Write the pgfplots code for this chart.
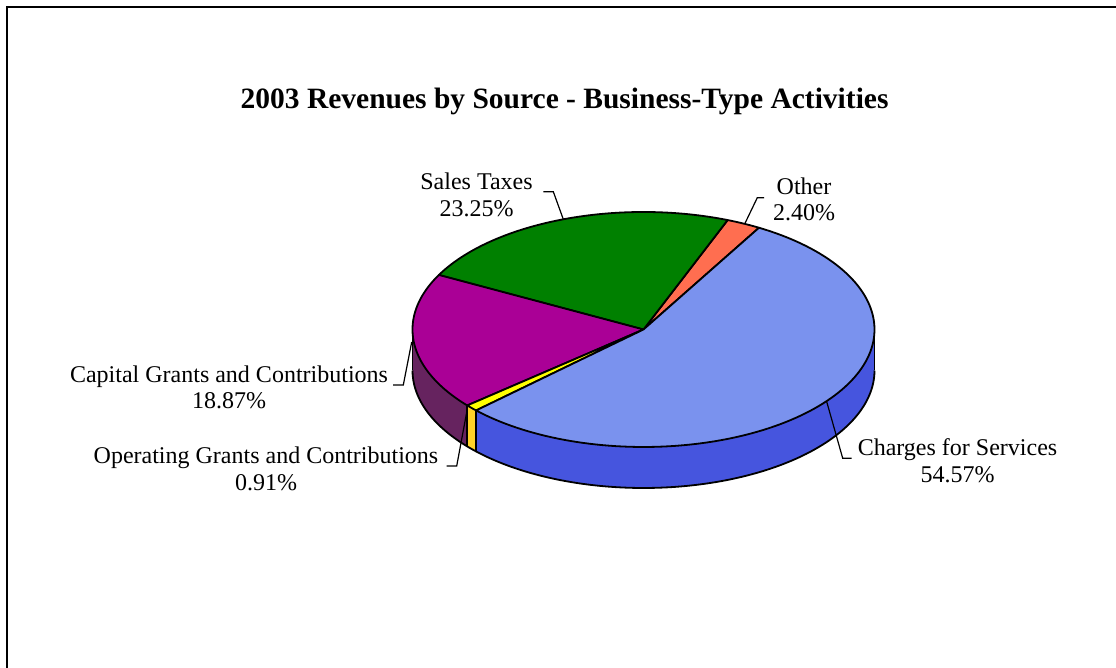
\documentclass[border=0pt]{standalone}
\usepackage{pgfplots}
\pgfplotsset{compat=1.18}
\usepackage{pgfplotstable}
\usepgfplotslibrary{fillbetween}
\usepackage{fontspec}
\setmainfont{Liberation Serif}

\definecolor{chargesTop}{RGB}{122,146,238}
\definecolor{chargesSide}{RGB}{70,85,222}
\definecolor{salesTop}{RGB}{0,128,0}
\definecolor{otherTop}{RGB}{255,110,80}
\definecolor{capitalTop}{RGB}{170,0,150}
\definecolor{capitalSide}{RGB}{102,35,95}
\definecolor{operTop}{RGB}{255,255,0}
\definecolor{operSide}{RGB}{255,210,40}

% percentages, in the order they go round the pie (counter-clockwise from 60 deg)
\pgfplotstableread{
label pct
Other 2.40
SalesTaxes 23.25
Capital 18.87
Operating 0.91
Charges 54.57
}\piedata

\pgfplotstablegetelem{0}{pct}\of\piedata \let\pOther\pgfplotsretval
\pgfplotstablegetelem{1}{pct}\of\piedata \let\pSales\pgfplotsretval
\pgfplotstablegetelem{2}{pct}\of\piedata \let\pCapital\pgfplotsretval
\pgfplotstablegetelem{3}{pct}\of\piedata \let\pOper\pgfplotsretval
\pgfplotstablegetelem{4}{pct}\of\piedata \let\pCharges\pgfplotsretval

\pgfmathsetmacro\aA{60}
\pgfmathsetmacro\aB{\aA+3.6*\pOther}
\pgfmathsetmacro\aC{\aB+3.6*\pSales}
\pgfmathsetmacro\aD{\aC+3.6*\pCapital}
\pgfmathsetmacro\aE{\aD+3.6*\pOper}
\pgfmathsetmacro\aF{\aE+3.6*\pCharges}

\def\cx{643.5}
\def\cy{338.5}
\def\rx{231}
\def\ry{117.5}
\def\dd{41}

\pgfmathsetmacro\xD{\cx+\rx*cos(\aD)}
\pgfmathsetmacro\yD{\cy+\ry*sin(\aD)}
\pgfmathsetmacro\yDb{\yD-\dd}
\pgfmathsetmacro\xE{\cx+\rx*cos(\aE)}
\pgfmathsetmacro\yE{\cy+\ry*sin(\aE)}
\pgfmathsetmacro\yEb{\yE-\dd}
\pgfmathsetmacro\xL{\cx-\rx}
\pgfmathsetmacro\xR{\cx+\rx}
\pgfmathsetmacro\yMb{\cy-\dd}

\newcommand{\topslice}[3]{%
  \addplot[fill=#1, draw=black, line width=1.8pt, line join=round, domain=#2:#3, samples=120]
    ({\cx+\rx*cos(x)},{\cy+\ry*sin(x)}) -- (axis cs:\cx,\cy) -- cycle;
}
\newcommand{\sideslice}[4]{%
  \addplot[draw=none, name path=#1T, domain=#3:#4, samples=80] ({\cx+\rx*cos(x)},{\cy+\ry*sin(x)});
  \addplot[draw=none, name path=#1B, domain=#3:#4, samples=80] ({\cx+\rx*cos(x)},{\cy-\dd+\ry*sin(x)});
  \addplot[fill=#2, draw=none] fill between[of=#1T and #1B];
}
\newcommand{\lab}{\fontsize{24}{26.7}\selectfont}

\begin{document}
\begin{tikzpicture}
\begin{axis}[
  x=1pt, y=1pt,
  xmin=0, xmax=1116, ymin=0, ymax=668,
  hide axis, clip=true,
]
\path (axis cs:0,0) rectangle (axis cs:1116,668);
% frame
\addplot[black, line width=1.8pt] coordinates {(7,-20) (7,661) (1140,661)};

% side faces
\sideslice{cap}{capitalSide}{180}{\aD}
\sideslice{op}{operSide}{\aD}{\aE}
\sideslice{ch}{chargesSide}{\aE}{360}
% side outlines
\addplot[black, line width=1.8pt, domain=180:360, samples=160] ({\cx+\rx*cos(x)},{\cy-\dd+\ry*sin(x)});
\addplot[black, line width=1.8pt] coordinates {(\xL,\cy) (\xL,\yMb)};
\addplot[black, line width=1.8pt] coordinates {(\xR,\cy) (\xR,\yMb)};
\addplot[black, line width=1.8pt] coordinates {(\xD,\yD) (\xD,\yDb)};
\addplot[black, line width=1.8pt] coordinates {(\xE,\yE) (\xE,\yEb)};

% top faces
\topslice{otherTop}{\aA}{\aB}
\topslice{salesTop}{\aB}{\aC}
\topslice{capitalTop}{\aC}{\aD}
\topslice{operTop}{\aD}{\aE}
\topslice{chargesTop}{\aE}{\aF}

% leader lines
\addplot[black, line width=1.2pt] coordinates {(543.3,476.3) (553.3,476.3) (563.3,448.7)};
\addplot[black, line width=1.2pt] coordinates {(764,470.3) (757.3,470.3) (745,444.7)};
\addplot[black, line width=1.2pt] coordinates {(393,283) (403.3,283) (411.7,326)};
\addplot[black, line width=1.2pt] coordinates {(446.7,202) (456.7,202) (467.3,259)};
\addplot[black, line width=1.2pt] coordinates {(826.7,266.3) (842.7,209.7) (851.7,209.7)};

% labels
\node[align=center, font=\lab] at (axis cs:476.5,473) {Sales Taxes\\23.25\%};
\node[align=center, font=\lab] at (axis cs:804,468.6) {Other\\2.40\%};
\node[align=center, font=\lab] at (axis cs:229,280.7) {Capital Grants and Contributions\\18.87\%};
\node[align=center, font=\lab] at (axis cs:266,199.3) {Operating Grants and Contributions\\0.91\%};
\node[align=center, font=\lab] at (axis cs:957.5,207.2) {Charges for Services\\54.57\%};

% title
\node[font=\fontsize{29.5}{35}\selectfont\bfseries] at (axis cs:564.6,567) {2003 Revenues by Source - Business-Type Activities};
\end{axis}
\end{tikzpicture}
\end{document}
